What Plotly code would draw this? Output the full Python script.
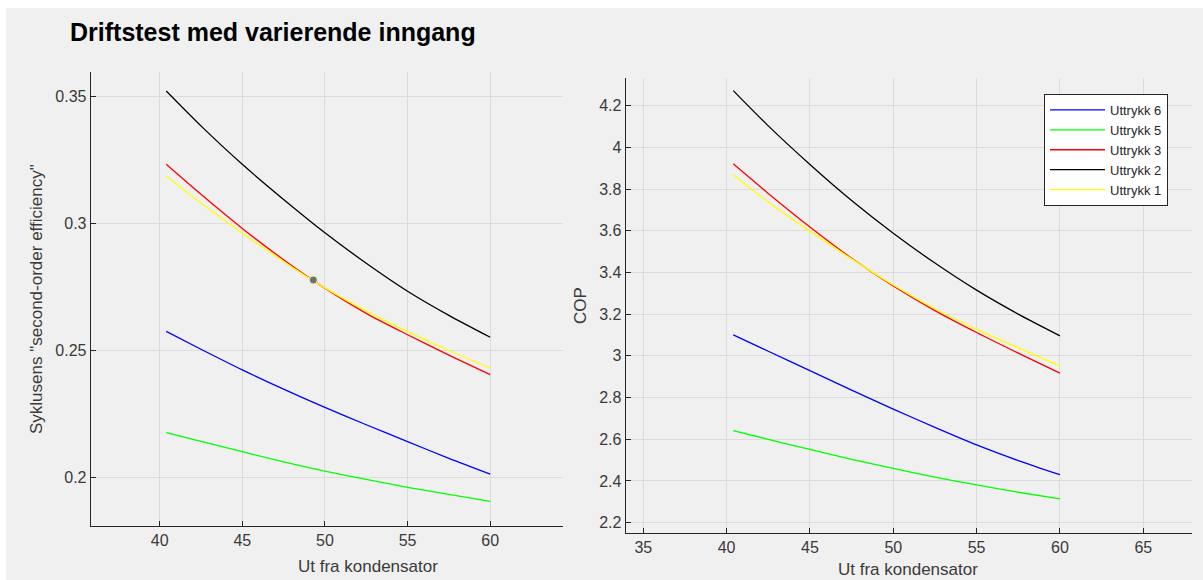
import plotly.graph_objects as go

# ---------------- data ----------------
x_vals = [40.4, 42.5, 45, 47.5, 50, 52.5, 55, 57.5, 60]

series_names = ["Uttrykk 6", "Uttrykk 5", "Uttrykk 3", "Uttrykk 2", "Uttrykk 1"]
series_colors = ["#0000ff", "#00ff00", "#ff0000", "#000000", "#ffff00"]

# Left panel: Syklusens "second-order efficiency"
eff_u6 = [0.2575, 0.2505, 0.2424, 0.2348, 0.2276, 0.2208, 0.2142, 0.2076, 0.2014]
eff_u5 = [0.2177, 0.2143, 0.2102, 0.2062, 0.2026, 0.1993, 0.1962, 0.1934, 0.1907]
eff_u3 = [0.3232, 0.3114, 0.2980, 0.2857, 0.2745, 0.2646, 0.2562, 0.2482, 0.2405]
eff_u2 = [0.3520, 0.3383, 0.3232, 0.3094, 0.2963, 0.2843, 0.2733, 0.2638, 0.2552]
eff_u1 = [0.3186, 0.3080, 0.2962, 0.2850, 0.2746, 0.2655, 0.2575, 0.2500, 0.2431]

# Right panel: COP
cop_u6 = [3.101, 3.022, 2.929, 2.836, 2.745, 2.657, 2.573, 2.498, 2.430]
cop_u5 = [2.642, 2.600, 2.551, 2.504, 2.460, 2.419, 2.381, 2.346, 2.314]
cop_u3 = [3.921, 3.779, 3.618, 3.468, 3.335, 3.217, 3.112, 3.013, 2.917]
cop_u2 = [4.272, 4.103, 3.918, 3.745, 3.588, 3.445, 3.315, 3.200, 3.096]
cop_u1 = [3.869, 3.738, 3.598, 3.465, 3.340, 3.226, 3.128, 3.038, 2.952]

# data tip marker on the left panel
tip_x = [49.3]
tip_y = [0.2777]

left_xticks = [40, 45, 50, 55, 60]
left_yticks = [0.2, 0.25, 0.3, 0.35]
left_yticktext = ["0.2", "0.25", "0.3", "0.35"]
right_xticks = [35, 40, 45, 50, 55, 60, 65]
right_yticks = [2.2, 2.4, 2.6, 2.8, 3.0, 3.2, 3.4, 3.6, 3.8, 4.0, 4.2]
right_yticktext = ["2.2", "2.4", "2.6", "2.8", "3", "3.2", "3.4", "3.6", "3.8", "4", "4.2"]

title_text = "Driftstest med varierende inngang"
left_ylabel = 'Syklusens "second-order efficiency"'
right_ylabel = "COP"
xlabel = "Ut fra kondensator"

# ---------------- figure ----------------
W, H = 1203, 580
FONT = "Liberation Sans, Arial, Helvetica, sans-serif"
TICKC = "#3a3a3a"
GRID = "#dcdcdc"
AXC = "#262626"

def px(x):
    return x / W

def py(y):
    return 1 - y / H

fig = go.Figure()

eff_sets = [eff_u6, eff_u5, eff_u3, eff_u2, eff_u1]
cop_sets = [cop_u6, cop_u5, cop_u3, cop_u2, cop_u1]

for name, color, ys in zip(series_names, series_colors, eff_sets):
    fig.add_trace(go.Scatter(x=x_vals, y=ys, mode="lines", name=name,
                             line=dict(color=color, width=1.3, shape="spline", smoothing=0.8),
                             xaxis="x", yaxis="y", showlegend=False))

fig.add_trace(go.Scatter(x=tip_x, y=tip_y, mode="markers",
                         marker=dict(color="#707070", size=8,
                                     line=dict(color="#f5f0b0", width=1)),
                         xaxis="x", yaxis="y", showlegend=False))

for name, color, ys in zip(series_names, series_colors, cop_sets):
    fig.add_trace(go.Scatter(x=x_vals, y=ys, mode="lines", name=name,
                             line=dict(color=color, width=1.3, shape="spline", smoothing=0.8),
                             xaxis="x2", yaxis="y2", showlegend=True))

axis_common = dict(showgrid=True, gridcolor=GRID, gridwidth=1,
                   showline=True, linecolor=AXC, linewidth=1,
                   zeroline=False, ticks="inside", ticklen=5,
                   tickcolor=AXC,
                   tickfont=dict(family=FONT, size=16, color=TICKC))

fig.update_layout(
    width=W, height=H,
    margin=dict(l=0, r=0, t=0, b=0),
    paper_bgcolor="white",
    plot_bgcolor="white",
    font=dict(family=FONT, color=TICKC),
    xaxis=dict(domain=[px(90.7), px(562.6)], range=[35.83, 64.38],
               tickvals=left_xticks, anchor="y", **axis_common),
    yaxis=dict(domain=[py(526), py(71.7)], range=[0.181, 0.3596],
               tickvals=left_yticks, ticktext=left_yticktext, anchor="x",
               **axis_common),
    xaxis2=dict(domain=[px(625.6), px(1191.6)], range=[33.94, 67.9],
                tickvals=right_xticks, anchor="y2", **axis_common),
    yaxis2=dict(domain=[py(532.7), py(78.3)], range=[2.152, 4.331],
                tickvals=right_yticks, ticktext=right_yticktext, anchor="x2",
                **axis_common),
    legend=dict(x=px(1044), y=py(94), xanchor="left", yanchor="top",
                bgcolor="white", bordercolor="#262626", borderwidth=1,
                font=dict(family=FONT, size=13, color="#262626"),
                itemwidth=55, tracegroupgap=0),
    showlegend=True,
)

# grey figure background (leaving thin white strip at top/left)
fig.add_shape(type="rect", xref="paper", yref="paper",
              x0=px(6), x1=1, y0=0, y1=py(8),
              fillcolor="#f0f0f0", line=dict(width=0), layer="below")

annotations = [
    dict(text="<b>" + title_text + "</b>", x=px(68), y=py(32), xanchor="left",
         yanchor="middle", font=dict(family=FONT, size=25, color="black")),
    dict(text=left_ylabel, x=px(36), y=py(299), textangle=-90,
         xanchor="center", yanchor="middle",
         font=dict(family=FONT, size=17, color=TICKC)),
    dict(text=right_ylabel, x=px(580), y=py(306), textangle=-90,
         xanchor="center", yanchor="middle",
         font=dict(family=FONT, size=17, color=TICKC)),
    dict(text=xlabel, x=px(368), y=py(566), xanchor="center",
         yanchor="middle", font=dict(family=FONT, size=17, color=TICKC)),
    dict(text=xlabel, x=px(908), y=py(569), xanchor="center",
         yanchor="middle", font=dict(family=FONT, size=17, color=TICKC)),
]
for a in annotations:
    fig.add_annotation(xref="paper", yref="paper", showarrow=False, **a)

fig.write_html("out.html")
